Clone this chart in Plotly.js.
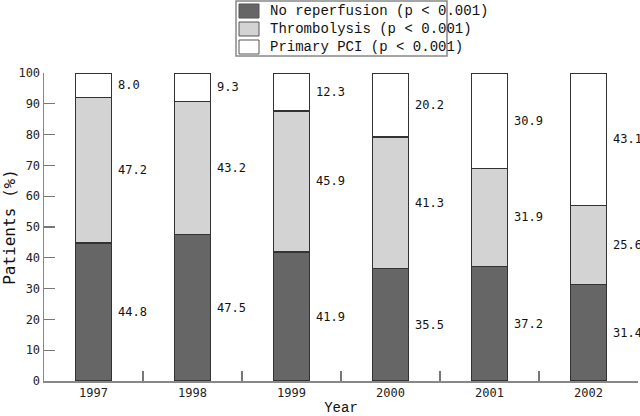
<!DOCTYPE html>
<html>
<head>
<meta charset="utf-8">
<script src="https://cdn.plot.ly/plotly-3.0.1.min.js"></script>
<style>html,body{margin:0;padding:0;background:#fff;}#chart{width:640px;height:416px;}</style>
</head>
<body>
<div id="chart"></div>
<script>
var years = ["1997", "1998", "1999", "2000", "2001", "2002"];
var seriesNames = ["No reperfusion (p < 0.001)", "Thrombolysis (p < 0.001)", "Primary PCI (p < 0.001)"];
var noReperfusion = [44.8, 47.5, 41.9, 35.5, 37.2, 31.4];
var thrombolysis = [47.2, 43.2, 45.9, 41.3, 31.9, 25.6];
var primaryPCI = [8.0, 9.3, 12.3, 20.2, 30.9, 43.1];
var yTicks = [0, 10, 20, 30, 40, 50, 60, 70, 80, 90, 100];

var fills = ["#666666", "#d3d3d3", "#ffffff"];
var seriesData = [noReperfusion, thrombolysis, primaryPCI];

var M = {l: 44, r: 2, t: 73, b: 35};
var W = 640 - M.l - M.r, H = 416 - M.t - M.b;
function pxX(px) { return (px - M.l) / W; }
function pxY(py) { return (416 - M.b - py) / H; }

var traces = seriesData.map(function (vals, k) {
  return {
    type: "bar", x: years, y: vals, name: seriesNames[k], width: 0.37,
    marker: {color: fills[k], line: {color: "#333333", width: 1.3}},
    hoverinfo: "none"
  };
});

var annotations = [];
var monoSans = "DejaVu Sans Mono, monospace";
var monoSerif = "Liberation Mono, Courier New, monospace";
years.forEach(function (yr, i) {
  var total = 0;
  seriesData.forEach(function (vals) { total += vals[i]; });
  var base = 0;
  seriesData.forEach(function (vals) {
    var v = vals[i];
    annotations.push({
      x: i, y: (base + v / 2) / total * 100, xref: "x", yref: "y", text: v.toFixed(1),
      showarrow: false, xanchor: "left", yanchor: "middle", xshift: 22,
      font: {family: monoSans, size: 12, color: "#111"}
    });
    base += v;
  });
});

var shapes = [];
// legend box
shapes.push({type: "rect", xref: "paper", yref: "paper", x0: pxX(236), x1: pxX(447), y0: pxY(56), y1: pxY(1),
  line: {color: "#888", width: 1.5}, fillcolor: "rgba(0,0,0,0)"});
var rowTop = [4, 22, 40];
seriesNames.forEach(function (nm, k) {
  shapes.push({type: "rect", xref: "paper", yref: "paper", x0: pxX(239), x1: pxX(259),
    y0: pxY(rowTop[k] + 14), y1: pxY(rowTop[k]), fillcolor: fills[k], line: {color: "#555", width: 1}});
  annotations.push({xref: "paper", yref: "paper", x: pxX(268), y: pxY(rowTop[k] + 7), text: nm,
    showarrow: false, xanchor: "left", yanchor: "middle",
    font: {family: monoSerif, size: 14, color: "#111"}});
});

var layout = {
  width: 640, height: 416,
  margin: M,
  paper_bgcolor: "#fff", plot_bgcolor: "#fff",
  barmode: "stack",
  barnorm: "percent",
  showlegend: false,
  xaxis: {
    type: "category", range: [-0.5, 5.5], tickson: "boundaries", ticks: "inside", ticklen: 10,
    tickcolor: "#777", tickwidth: 1.3, showline: true, linecolor: "#888", linewidth: 1.5,
    showgrid: false, zeroline: false, tickfont: {family: monoSans, size: 12, color: "#222"},
    title: {text: "Year", font: {family: monoSerif, size: 14, color: "#111"}, standoff: 10}
  },
  yaxis: {
    range: [0, 100], tickvals: yTicks, ticktext: yTicks.map(String), ticks: "inside", ticklen: 11,
    tickcolor: "#777", tickwidth: 1.3, showline: true, linecolor: "#888", linewidth: 1.5,
    showgrid: false, zeroline: false, tickfont: {family: monoSans, size: 12, color: "#222"},
    title: {text: "Patients (%)", font: {family: monoSans, size: 16, color: "#111"}, standoff: 3}
  },
  annotations: annotations,
  shapes: shapes
};

Plotly.newPlot("chart", traces, layout, {displayModeBar: false, staticPlot: true});
</script>
</body>
</html>
